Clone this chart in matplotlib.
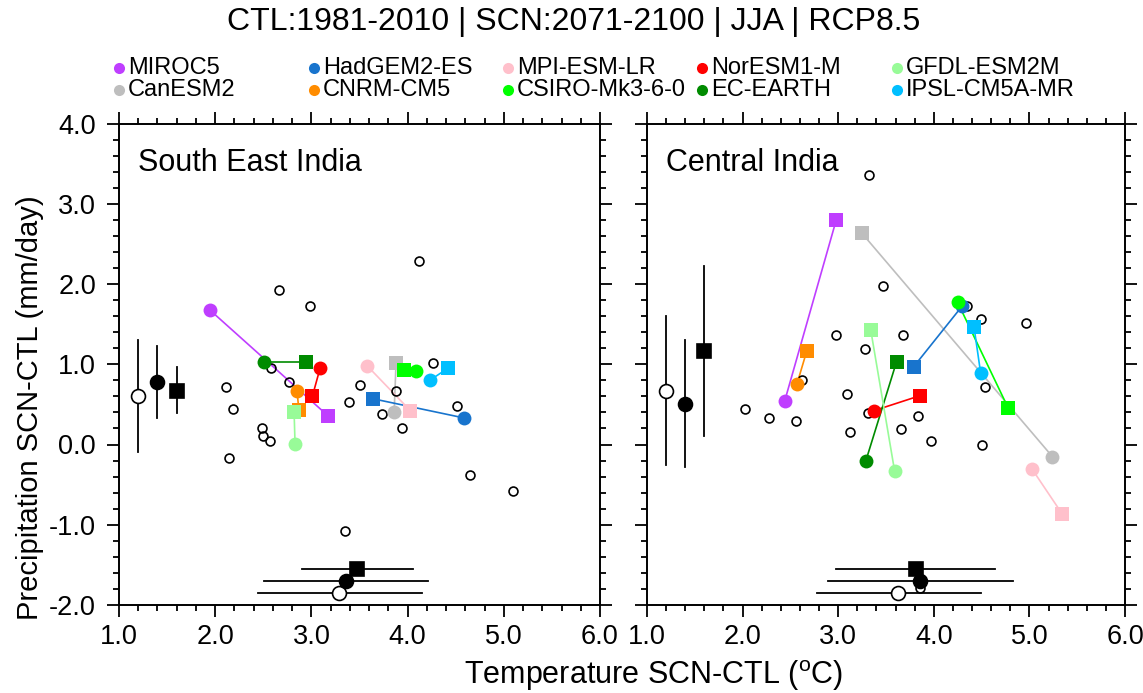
import matplotlib
matplotlib.use("Agg")
import matplotlib.pyplot as plt
from matplotlib.lines import Line2D
from matplotlib.ticker import MultipleLocator, FormatStrFormatter

plt.rcParams['font.family'] = ['Liberation Sans', 'DejaVu Sans']
plt.rcParams['axes.unicode_minus'] = False

# ---------------- data ----------------
models = ["MIROC5", "CanESM2", "HadGEM2-ES", "CNRM-CM5", "MPI-ESM-LR",
          "CSIRO-Mk3-6-0", "NorESM1-M", "EC-EARTH", "GFDL-ESM2M", "IPSL-CM5A-MR"]
colors = ["#bf3eff", "#bebebe", "#1874cd", "#ff8c00", "#ffc0cb",
          "#00ff00", "#ff0000", "#008b00", "#98fb98", "#00bfff"]

# South East India: GCM (circle) and RCM (square) changes
sei_gcm_t = [1.95, 3.86, 4.59, 2.85, 3.58, 4.09, 3.09, 2.51, 2.83, 4.23]
sei_gcm_p = [1.67, 0.40, 0.33, 0.67, 0.98, 0.92, 0.95, 1.03, 0.01, 0.80]
sei_rcm_t = [3.17, 3.88, 3.64, 2.87, 4.03, 3.96, 3.01, 2.94, 2.82, 4.42]
sei_rcm_p = [0.36, 1.02, 0.57, 0.43, 0.42, 0.93, 0.60, 1.03, 0.41, 0.95]
sei_other_t = [2.66, 2.99, 2.11, 2.19, 2.58, 2.77, 2.49, 2.50, 2.57, 2.14, 3.39,
               3.51, 4.12, 4.26, 3.88, 3.73, 3.94, 4.51, 4.65, 5.10, 3.35]
sei_other_p = [1.92, 1.72, 0.72, 0.44, 0.95, 0.78, 0.20, 0.11, 0.04, -0.17, 0.53,
               0.74, 2.29, 1.02, 0.67, 0.38, 0.20, 0.48, -0.38, -0.58, -1.08]

# Central India
ci_gcm_t = [2.44, 5.24, 4.30, 2.57, 5.03, 4.25, 3.37, 3.29, 3.59, 4.49]
ci_gcm_p = [0.54, -0.15, 1.73, 0.76, -0.31, 1.77, 0.42, -0.20, -0.33, 0.89]
ci_rcm_t = [2.98, 3.25, 3.79, 2.67, 5.34, 4.78, 3.86, 3.61, 3.34, 4.42]
ci_rcm_p = [2.80, 2.63, 0.97, 1.16, -0.86, 0.45, 0.61, 1.03, 1.43, 1.47]
ci_other_t = [2.03, 2.28, 2.56, 2.62, 2.98, 3.28, 3.09, 3.12, 3.31, 3.47, 4.35,
              4.49, 4.96, 4.54, 3.68, 3.83, 3.66, 3.97, 4.50, 3.32, 3.86]
ci_other_p = [0.44, 0.33, 0.29, 0.80, 1.36, 1.19, 0.63, 0.16, 0.39, 1.97, 1.73,
              1.57, 1.51, 0.72, 1.37, 0.36, 0.19, 0.04, 0.00, 3.36, -1.79]

# ensemble summaries: [all GCMs (open), driving GCMs (filled), RCMs (square)]
sei_p_mean = [0.60, 0.78, 0.67]
sei_p_lo = [-0.09, 0.33, 0.39]
sei_p_hi = [1.30, 1.23, 0.96]
sei_t_mean = [3.29, 3.36, 3.47]
sei_t_lo = [2.44, 2.51, 2.90]
sei_t_hi = [4.15, 4.21, 4.06]

ci_p_mean = [0.67, 0.51, 1.17]
ci_p_lo = [-0.26, -0.28, 0.10]
ci_p_hi = [1.60, 1.30, 2.22]
ci_t_mean = [3.63, 3.86, 3.81]
ci_t_lo = [2.78, 2.89, 2.98]
ci_t_hi = [4.49, 4.83, 4.64]

summary_x = [1.2, 1.4, 1.6]
summary_y = [-1.85, -1.70, -1.55]
summary_styles = [("o", "white"), ("o", "black"), ("s", "black")]

panels = [
    ("South East India", sei_gcm_t, sei_gcm_p, sei_rcm_t, sei_rcm_p, sei_other_t, sei_other_p,
     sei_p_mean, sei_p_lo, sei_p_hi, sei_t_mean, sei_t_lo, sei_t_hi),
    ("Central India", ci_gcm_t, ci_gcm_p, ci_rcm_t, ci_rcm_p, ci_other_t, ci_other_p,
     ci_p_mean, ci_p_lo, ci_p_hi, ci_t_mean, ci_t_lo, ci_t_hi),
]

# ---------------- figure ----------------
W, H = 1143, 693
fig = plt.figure(figsize=(W / 100, H / 100), dpi=100)
ax_boxes = [(119, 123.5, 600, 605), (647, 123.5, 1125, 605)]

for i, (box, pan) in enumerate(zip(ax_boxes, panels)):
    x0, y0, x1, y1 = box
    ax = fig.add_axes([x0 / W, 1 - y1 / H, (x1 - x0) / W, (y1 - y0) / H])
    (name, gt, gp, rt, rp, ot, op, pm, plo, phi, tm, tlo, thi) = pan

    # other GCMs
    ax.plot(ot, op, linestyle="none", marker="o", ms=6.4, mfc="none",
            mec="black", mew=1.2, zorder=4)

    # connecting lines and colored markers
    for k in range(len(models)):
        ax.plot([gt[k], rt[k]], [gp[k], rp[k]], color=colors[k], lw=1.2, zorder=3)
    for k in range(len(models)):
        ax.plot(gt[k], gp[k], marker="o", ms=10, color=colors[k], mew=0, zorder=5)
        ax.plot(rt[k], rp[k], marker="s", ms=10.5, color=colors[k], mew=0, zorder=5)

    # summary error bars
    for j in range(3):
        mk, fc = summary_styles[j]
        ax.plot([summary_x[j], summary_x[j]], [plo[j], phi[j]], color="black", lw=1.3, zorder=6)
        ax.plot([tlo[j], thi[j]], [summary_y[j], summary_y[j]], color="black", lw=1.3, zorder=6)
        ms = 10 if mk == "o" else 10.5
        ax.plot(summary_x[j], pm[j], marker=mk, ms=ms, mfc=fc, mec="black", mew=1.2, zorder=7)
        ax.plot(tm[j], summary_y[j], marker=mk, ms=ms, mfc=fc, mec="black", mew=1.2, zorder=7)

    ax.set_xlim(1.0, 6.0)
    ax.set_ylim(-2.0, 4.0)
    ax.xaxis.set_major_locator(MultipleLocator(1.0))
    ax.xaxis.set_minor_locator(MultipleLocator(0.2))
    ax.yaxis.set_major_locator(MultipleLocator(1.0))
    ax.yaxis.set_minor_locator(MultipleLocator(0.2))
    ax.xaxis.set_major_formatter(FormatStrFormatter("%.1f"))
    ax.yaxis.set_major_formatter(FormatStrFormatter("%.1f"))
    ax.tick_params(which="both", direction="out", top=True, right=True,
                   labeltop=False, labelright=False, width=1.3, labelsize=19.5)
    ax.tick_params(which="major", length=8.5)
    ax.tick_params(axis="y", which="major", pad=8)
    ax.tick_params(axis="x", which="major", pad=5)
    ax.tick_params(which="minor", length=4.5)
    if i == 1:
        ax.tick_params(labelleft=False)
    for s in ax.spines.values():
        s.set_linewidth(1.4)
    ax.text(0.04, 0.917, name, transform=ax.transAxes, fontsize=22,
            ha="left", va="center")

# title
fig.text(574 / W, 1 - 22 / H, "CTL:1981-2010 | SCN:2071-2100 | JJA | RCP8.5",
         fontsize=23, ha="center", va="center")

# legend (manual, 5 columns x 2 rows)
leg_cols_x = [119, 314, 508, 702, 897]
leg_rows_y = [68, 90]
for k, (m, c) in enumerate(zip(models, colors)):
    col, row = k // 2, k % 2
    xm, ym = leg_cols_x[col], leg_rows_y[row]
    fig.add_artist(Line2D([xm / W], [1 - ym / H], marker="o", ms=8, color=c, mew=0,
                          transform=fig.transFigure))
    fig.text((xm + 9) / W, 1 - ym / H, m, fontsize=17, ha="left", va="center")

# axis labels
fig.text(654 / W, 1 - 676 / H, "Temperature SCN-CTL ($^{\\mathregular{o}}$C)",
         fontsize=22, ha="center", va="center")
fig.text(30 / W, 1 - 408 / H, "Precipitation SCN-CTL (mm/day)", fontsize=21,
         ha="center", va="center", rotation=90)

fig.savefig("out.png", dpi=100)
